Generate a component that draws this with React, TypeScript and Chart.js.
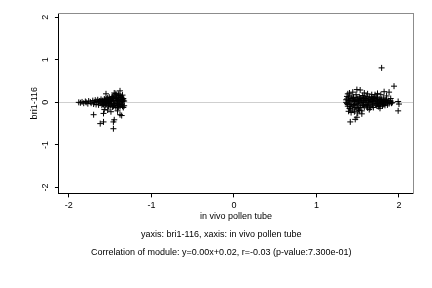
import React, { useEffect, useRef } from "react";
import { Chart, registerables } from "chart.js";

Chart.register(...registerables);

// Left cluster (x ≈ -1.9 .. -1.33)
const leftX = [
  -1.88, -1.86, -1.84, -1.82, -1.80, -1.79, -1.77, -1.76, -1.74, -1.73,
  -1.71, -1.70, -1.69, -1.68, -1.67, -1.66, -1.65, -1.64, -1.63, -1.62,
  -1.61, -1.60, -1.59, -1.58, -1.57, -1.56, -1.55, -1.54, -1.53, -1.52,
  -1.51, -1.50, -1.49, -1.48, -1.47, -1.46, -1.45, -1.44, -1.43, -1.42,
  -1.41, -1.40, -1.39, -1.38, -1.37, -1.36, -1.35, -1.34, -1.33,
  -1.60, -1.58, -1.56, -1.54, -1.52, -1.50, -1.48, -1.46, -1.44, -1.42,
  -1.40, -1.38, -1.36, -1.34, -1.35, -1.39, -1.43, -1.47, -1.51,
  -1.64, -1.62, -1.59, -1.57, -1.55, -1.53, -1.51, -1.49, -1.47, -1.45,
  -1.43, -1.41, -1.39, -1.37, -1.35, -1.33, -1.34, -1.36, -1.38, -1.40,
  -1.42, -1.44, -1.46, -1.48, -1.50, -1.52, -1.54, -1.56, -1.37, -1.41,
  -1.70, -1.58, -1.57, -1.62, -1.58, -1.46, -1.45, -1.46, -1.38, -1.36,
  -1.55, -1.38, -1.45, -1.41, -1.53, -1.49, -1.43, -1.40, -1.35,
];
const leftY = [
  0.00, -0.01, 0.01, -0.02, 0.02, 0.00, -0.03, 0.03, 0.01, -0.02,
  0.04, -0.04, 0.00, 0.05, -0.05, 0.02, 0.06, -0.06, 0.03, -0.02,
  0.07, -0.07, 0.04, 0.00, 0.08, -0.08, 0.05, -0.03, 0.10, -0.09,
  0.02, 0.07, -0.06, 0.12, -0.11, 0.04, -0.02, 0.15, -0.12, 0.09,
  -0.07, 0.13, 0.01, -0.10, 0.11, -0.05, 0.06, -0.12, 0.03,
  0.02, -0.05, 0.06, 0.08, 0.00, -0.08, 0.03, -0.09, 0.06, -0.03,
  -0.11, 0.08, 0.12, 0.09, -0.09, 0.16, 0.18, 0.14, 0.12,
  0.01, 0.03, -0.04, 0.05, -0.06, 0.02, -0.04, 0.04, 0.09, -0.06,
  0.03, 0.05, -0.04, -0.02, 0.02, -0.08, 0.05, 0.07, -0.06, 0.04,
  0.11, -0.07, 0.10, -0.03, 0.03, 0.06, 0.01, -0.02, 0.15, -0.13,
  -0.29, -0.26, -0.17, -0.50, -0.46, -0.46, -0.41, -0.62, -0.29, -0.31,
  0.20, 0.27, 0.22, -0.20, -0.18, -0.22, 0.21, 0.19, 0.17,
];

// Right cluster (x ≈ 1.36 .. 2.0)
const rightX = [
  1.36, 1.37, 1.38, 1.39, 1.40, 1.41, 1.42, 1.43, 1.44, 1.45,
  1.46, 1.47, 1.48, 1.49, 1.50, 1.51, 1.52, 1.53, 1.54, 1.55,
  1.56, 1.57, 1.58, 1.59, 1.60, 1.61, 1.62, 1.63, 1.64, 1.65,
  1.66, 1.67, 1.68, 1.69, 1.70, 1.71, 1.72, 1.73, 1.74, 1.75,
  1.76, 1.77, 1.78, 1.79, 1.80, 1.81, 1.82, 1.83, 1.84, 1.85,
  1.86, 1.88, 1.90, 1.92,
  1.37, 1.39, 1.41, 1.43, 1.45, 1.47, 1.49, 1.51, 1.53, 1.55,
  1.57, 1.59, 1.61, 1.63, 1.65, 1.67, 1.69, 1.71, 1.73, 1.75,
  1.77, 1.79, 1.81, 1.83, 1.87, 1.38, 1.40, 1.44, 1.42, 1.46, 1.50,
  1.36, 1.38, 1.40, 1.42, 1.44, 1.46, 1.48, 1.50, 1.52, 1.54,
  1.56, 1.58, 1.60, 1.62, 1.64, 1.66, 1.68, 1.70, 1.72, 1.74,
  1.76, 1.78, 1.80, 1.82, 1.84, 1.86, 1.89, 1.91, 1.37, 1.41,
  1.45, 1.49, 1.53, 1.57, 1.61, 1.65, 1.69, 1.73, 1.77, 1.81,
  1.41, 1.47, 1.49, 1.49, 1.53, 1.79, 1.94, 1.74, 1.78, 1.82,
  1.88, 1.67, 1.71, 1.90, 1.99, 2.00, 1.99, 1.77, 1.55, 1.58,
  1.62, 1.85, 1.39, 1.52, 1.64,
];
const rightY = [
  0.00, 0.08, -0.09, 0.12, -0.14, 0.03, 0.15, -0.06, -0.18, 0.10,
  0.02, -0.12, 0.18, -0.03, 0.07, -0.16, 0.13, -0.08, 0.04, -0.20,
  0.16, 0.00, -0.11, 0.09, -0.05, 0.14, -0.13, 0.05, 0.11, -0.09,
  0.02, -0.04, 0.08, -0.12, 0.12, -0.02, 0.06, -0.08, 0.10, 0.01,
  -0.06, 0.04, -0.03, 0.07, 0.00, -0.05, 0.05, 0.02, -0.02, 0.06,
  0.00, -0.03, 0.03, 0.00,
  -0.03, 0.05, -0.10, 0.09, -0.07, 0.05, 0.11, 0.01, 0.09, -0.01,
  -0.07, 0.03, -0.09, -0.01, 0.07, 0.13, 0.04, 0.09, 0.03, -0.10,
  -0.01, 0.02, 0.10, -0.07, 0.04, 0.20, 0.22, 0.24, -0.24, -0.22, -0.25,
  0.06, -0.05, 0.04, -0.04, 0.06, -0.05, 0.04, -0.06, 0.03, 0.07,
  -0.04, 0.05, 0.08, -0.07, 0.01, 0.06, -0.06, 0.03, -0.04, -0.03,
  0.08, 0.06, -0.08, -0.04, 0.05, -0.06, 0.01, -0.02, 0.14, -0.15,
  0.12, -0.14, -0.12, 0.11, 0.04, -0.13, 0.09, 0.12, -0.09, 0.02,
  -0.46, -0.40, -0.35, 0.30, 0.29, 0.81, 0.38, 0.21, 0.18, 0.25,
  0.24, 0.18, 0.18, 0.09, 0.02, -0.04, -0.20, -0.14, -0.27, 0.22,
  0.20, 0.15, -0.21, -0.19, -0.17,
];

const xTicks = [-2, -1, 0, 1, 2];
const yTicks = [-2, -1, 0, 1, 2];
const xTitle = "in vivo pollen tube";
const yTitle = "bri1-116";
const captionLines = [
  "yaxis: bri1-116, xaxis: in vivo pollen tube",
  "Correlation of module: y=0.00x+0.02, r=-0.03 (p-value:7.300e-01)",
];

const FONT = "'Liberation Sans', Arial, Helvetica, sans-serif";

export default function App() {
  const ref = useRef<HTMLCanvasElement | null>(null);

  useEffect(() => {
    document.body.style.margin = "0";
    const canvas = ref.current;
    if (!canvas) return;
    const pts = (xs: number[], ys: number[]) => xs.map((x, i) => ({ x, y: ys[i] }));
    const pointStyle = {
      pointStyle: "cross" as const,
      pointRadius: 3,
      pointBorderWidth: 1,
      borderColor: "#000",
      backgroundColor: "#000",
    };
    const font = { family: FONT, size: 9 };
    const chart = new Chart(canvas, {
      type: "scatter",
      data: {
        datasets: [
          { data: pts(leftX, leftY), ...pointStyle },
          { data: pts(rightX, rightY), ...pointStyle },
        ],
      },
      options: {
        animation: false,
        responsive: false,
        layout: { padding: { left: 29.5, right: 19, top: 13, bottom: 26 } },
        plugins: {
          legend: { display: false },
          tooltip: { enabled: false },
          title: {
            display: true,
            position: "bottom",
            text: captionLines,
            color: "#000",
            font: { family: FONT, size: 9, weight: "normal", lineHeight: 2.0 },
            padding: { top: 0, bottom: 0 },
          },
        },
        scales: {
          x: {
            type: "linear",
            position: "bottom",
            min: -2.12,
            max: 2.17,
            afterBuildTicks: (s: any) => {
              s.ticks = xTicks.map((v) => ({ value: v }));
            },
            ticks: { color: "#000", font, padding: 3, maxRotation: 0, callback: (v: any) => String(v) },
            grid: { drawOnChartArea: false, drawTicks: true, tickLength: 4, tickColor: "#000" },
            border: { color: "#000", width: 1 },
            title: { display: true, text: xTitle, color: "#000", font, padding: { top: -3, bottom: 4 } },
          },
          y: {
            type: "linear",
            position: "left",
            min: -2.14,
            max: 2.1,
            afterBuildTicks: (s: any) => {
              s.ticks = yTicks.map((v) => ({ value: v }));
            },
            ticks: {
              color: "#000",
              font: { family: FONT, size: 9, lineHeight: 0.85 },
              padding: 5,
              minRotation: 90,
              maxRotation: 90,
              crossAlign: "center",
              callback: (v: any) => String(v),
            },
            grid: {
              drawOnChartArea: true,
              drawTicks: true,
              tickLength: 4,
              tickColor: "#000",
              color: (ctx: any) => (ctx.tick && ctx.tick.value === 0 ? "#cfcfcf" : "rgba(0,0,0,0)"),
            },
            border: { color: "#000", width: 1 },
            title: { display: true, text: yTitle, color: "#000", font, padding: { top: 0, bottom: -3 } },
          },
          x2: {
            type: "linear",
            position: "top",
            min: -2.12,
            max: 2.17,
            display: true,
            ticks: { display: false },
            grid: { drawOnChartArea: false, drawTicks: false },
            border: { color: "#8c8c8c", width: 1 },
          },
          y2: {
            type: "linear",
            position: "right",
            min: -2.14,
            max: 2.1,
            display: true,
            ticks: { display: false },
            grid: { drawOnChartArea: false, drawTicks: false },
            border: { color: "#8c8c8c", width: 1 },
          },
        },
      },
    });
    return () => chart.destroy();
  }, []);

  return <canvas ref={ref} width={432} height={288} style={{ display: "block", width: 432, height: 288 }} />;
}
